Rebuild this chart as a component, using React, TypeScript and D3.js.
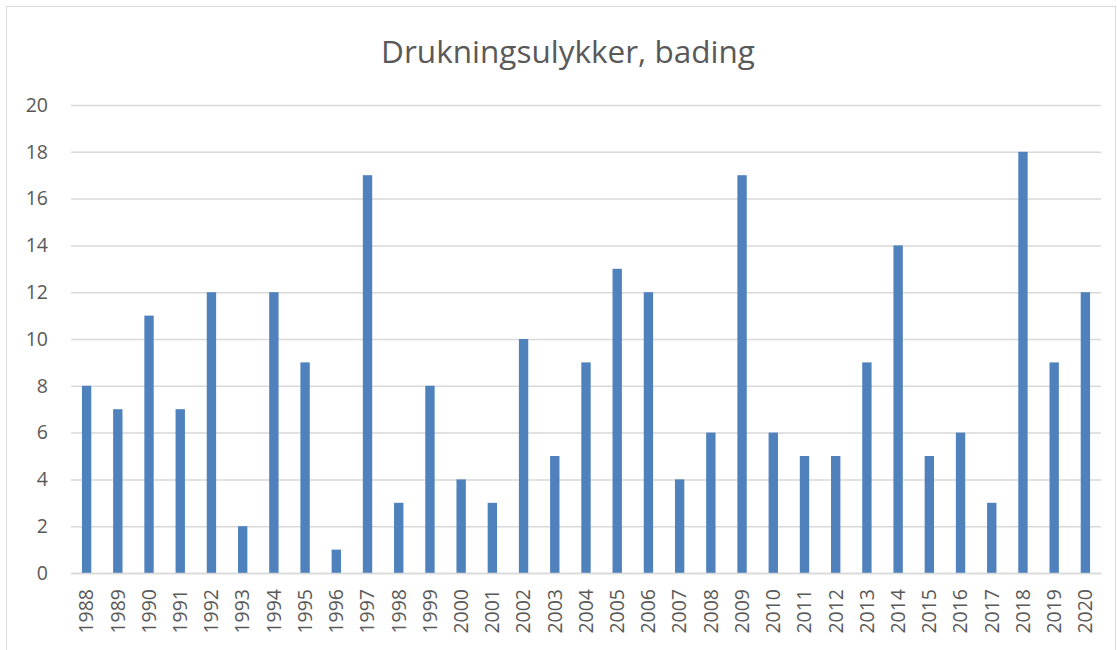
import React, {useEffect, useRef} from 'react';
import * as d3 from 'd3';

const years = ['1988', '1989', '1990', '1991', '1992', '1993', '1994', '1995', '1996', '1997', '1998',
    '1999', '2000', '2001', '2002', '2003', '2004', '2005', '2006', '2007', '2008', '2009',
    '2010', '2011', '2012', '2013', '2014', '2015', '2016', '2017', '2018', '2019', '2020'];
const counts = [8, 7, 11, 7, 12, 2, 12, 9, 1, 17, 3, 8, 4, 3, 10, 5, 9, 13, 12, 4, 6, 17,
    6, 5, 5, 9, 14, 5, 6, 3, 18, 9, 12];
const yTicks = [0, 2, 4, 6, 8, 10, 12, 14, 16, 18, 20];

const width = 1117;
const height = 650;
const margin = {top: 105, right: 16, bottom: 77, left: 71};
const font = '"Open Sans", "Noto Sans", sans-serif';

function App() {
    const ref = useRef<SVGSVGElement>(null);

    useEffect(() => {
        const svg = d3.select(ref.current);
        svg.selectAll('*').remove();

        const x = d3.scaleBand()
            .domain(years)
            .range([margin.left, width - margin.right])
            .paddingInner(0.7)
            .paddingOuter(0.35);

        const y = d3.scaleLinear()
            .domain([0, 20])
            .range([height - margin.bottom, margin.top]);

        // chart border
        svg.append('rect')
            .attr('x', 6.5)
            .attr('y', 6.5)
            .attr('width', width - 8)
            .attr('height', height - 4)
            .attr('fill', '#fff')
            .attr('stroke', '#d9d9d9');

        svg.append('text')
            .attr('x', 568)
            .attr('y', 63)
            .attr('text-anchor', 'middle')
            .attr('font-family', font)
            .attr('font-size', 31.5)
            .attr('fill', '#595959')
            .text('Drukningsulykker, bading');

        // gridlines
        const yAxis = svg.append('g')
            .attr('transform', `translate(${margin.left},0)`)
            .call(d3.axisLeft(y).tickValues(yTicks).tickSize(-(width - margin.left - margin.right)).tickPadding(23));
        yAxis.select('.domain').remove();
        yAxis.selectAll('line').attr('stroke', '#d9d9d9').attr('stroke-width', 1.5);
        yAxis.selectAll('text')
            .attr('font-family', font)
            .attr('font-size', 19.5)
            .attr('fill', '#595959');

        svg.append('g')
            .selectAll('rect')
            .data(counts)
            .enter()
            .append('rect')
            .attr('x', (_, i) => x(years[i])!)
            .attr('y', (d) => y(d))
            .attr('width', x.bandwidth())
            .attr('height', (d) => y(0) - y(d))
            .attr('fill', '#4f81bd');

        const xAxis = svg.append('g')
            .attr('transform', `translate(0,${height - margin.bottom})`)
            .call(d3.axisBottom(x).tickSize(0).tickPadding(0));
        xAxis.select('.domain').attr('stroke', '#d9d9d9').attr('stroke-width', 1.5);
        xAxis.selectAll('text')
            .attr('font-family', font)
            .attr('font-size', 19.5)
            .attr('fill', '#595959')
            .attr('text-anchor', 'end')
            .attr('dy', '0.35em')
            .attr('transform', 'translate(0,16) rotate(-90)');
    }, []);

    return <svg ref={ref} width={width} height={height} style={{display: 'block', position: 'absolute', left: 0, top: 0}}/>;
}

export default App;
